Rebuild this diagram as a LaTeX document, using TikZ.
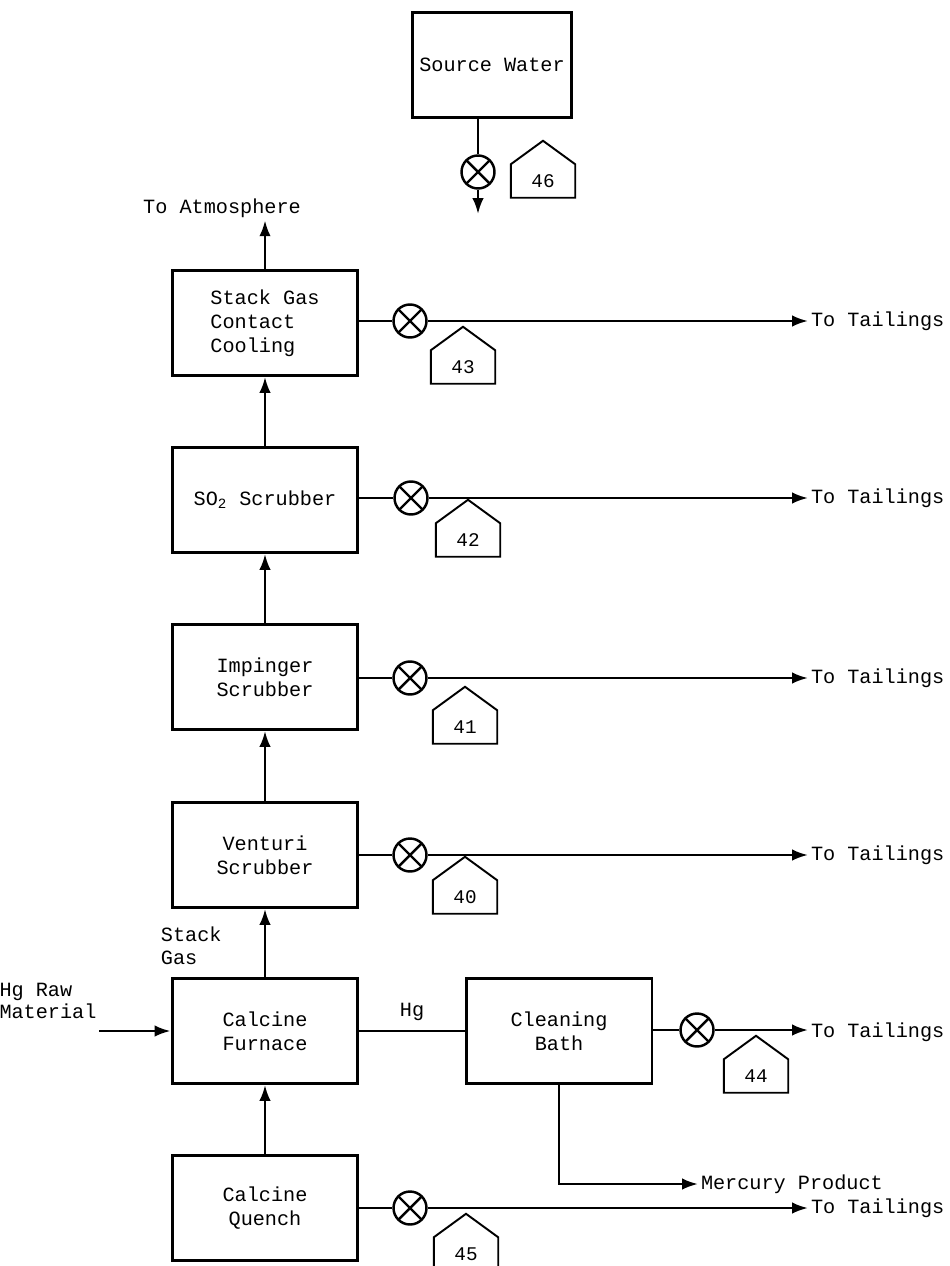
\documentclass[tikz,border=0pt]{standalone}
\usepackage{fontspec}
\setmainfont{Liberation Mono}
\usetikzlibrary{arrows.meta}

\begin{document}
\begin{tikzpicture}[x=0.02cm, y=-0.02cm, >={Latex[length=9pt,width=6.5pt]}, line width=1.4pt,
        unit/.style={draw, line width=1.7pt, align=center, minimum width=3.72cm, minimum height=2.1cm, font=\fontsize{11.5}{13.6}\selectfont},
        sampler/.style={draw, circle, minimum size=0.66cm, inner sep=0pt,
            path picture={\draw (path picture bounding box.north west) -- (path picture bounding box.south east)
                (path picture bounding box.north east) -- (path picture bounding box.south west);}},
        tagbox/.style={minimum width=1.24cm, minimum height=0.62cm, inner sep=0pt, font=\fontsize{11}{12}\selectfont},
        note/.style={font=\fontsize{11.5}{13}\selectfont, inner sep=1pt}]
        \useasboundingbox (0,0) rectangle (949,1266);
        % process units
        \node[unit, minimum width=3.18cm] (source) at (492,65) {Source Water};
        \node[unit, align=left] (stack) at (265,323) {Stack Gas\\Contact\\Cooling};
        \node[unit] (so2) at (265,500) {SO\textsubscript{2} Scrubber};
        \node[unit] (impinger) at (265,677) {Impinger\\Scrubber};
        \node[unit] (venturi) at (265,855) {Venturi\\Scrubber};
        \node[unit] (furnace) at (265,1031) {Calcine\\Furnace};
        \node[unit] (bath) at (559,1031) {Cleaning\\Bath};
        \node[unit] (quench) at (265,1208) {Calcine\\Quench};
        % sampling points
        \node[sampler] (s46) at (478,172) {};
        \node[sampler] (s43) at (410,321) {};
        \node[sampler] (s42) at (411,498) {};
        \node[sampler] (s41) at (410,678) {};
        \node[sampler] (s40) at (410,855) {};
        \node[sampler] (s44) at (697,1030) {};
        \node[sampler] (s45) at (410,1208) {};
        \node[tagbox] (t46) at (543,181) {46};
        \node[tagbox] (t43) at (463,367) {43};
        \node[tagbox] (t42) at (468,540) {42};
        \node[tagbox] (t41) at (465,727) {41};
        \node[tagbox] (t40) at (465,897) {40};
        \node[tagbox] (t44) at (756,1076) {44};
        \node[tagbox] (t45) at (466,1254) {45};
        \foreach \t in {t40,t41,t42,t43,t44,t45,t46}
            \draw[line width=1.1pt] (\t.south west) -- (\t.north west) -- ([yshift=0.47cm]\t.north)
                -- (\t.north east) -- (\t.south east) -- cycle;
        % outside streams
        \node[note] (atmo) at (222,208) {To Atmosphere};
        \node[note, anchor=west] (out43) at (808,321) {To Tailings};
        \node[note, anchor=west] (out42) at (808,498) {To Tailings};
        \node[note, anchor=west] (out41) at (808,678) {To Tailings};
        \node[note, anchor=west] (out40) at (808,855) {To Tailings};
        \node[note, anchor=west] (out44) at (808,1032) {To Tailings};
        \node[note, anchor=west] (out45) at (808,1208) {To Tailings};
        \node[note, anchor=west] (mercury) at (698,1184) {Mercury Product};
        \node[note, align=left] (raw) at (48,1001) {Hg Raw\\Material};
        \node[note, align=left, anchor=west] (stackgas) at (158,946) {Stack\\Gas};
        \coordinate (drain) at (478,214);
        % gas path
        \draw[->] (quench) -- (furnace);
        \draw[->] (furnace) -- (venturi);
        \draw[->] (venturi) -- (impinger);
        \draw[->] (impinger) -- (so2);
        \draw[->] (so2) -- (stack);
        \draw[->] (stack.north) -- (stack.north |- atmo.south);
        \draw[->] (raw.east |- furnace) -- (furnace.west);
        \draw (furnace.east) -- node[note, above=4pt]{Hg} (bath.west);
        \draw[->] (bath.south) |- (mercury.west);
        % water streams
        \draw (source.south -| s46) -- (s46);
        \draw[->] (s46) -- (drain);
        \draw (s43 -| stack.east) -- (s43);
        \draw (s42 -| so2.east) -- (s42);
        \draw (s41 -| impinger.east) -- (s41);
        \draw (s40 -| venturi.east) -- (s40);
        \draw (s44 -| bath.east) -- (s44);
        \draw (s45 -| quench.east) -- (s45);
        \draw[->] (s43) -- (out43.west);
        \draw[->] (s42) -- (out42.west);
        \draw[->] (s41) -- (out41.west);
        \draw[->] (s40) -- (out40.west);
        \draw[->] (s44) -- (out44.west |- s44);
        \draw[->] (s45) -- (out45.west);
\end{tikzpicture}
\end{document}
